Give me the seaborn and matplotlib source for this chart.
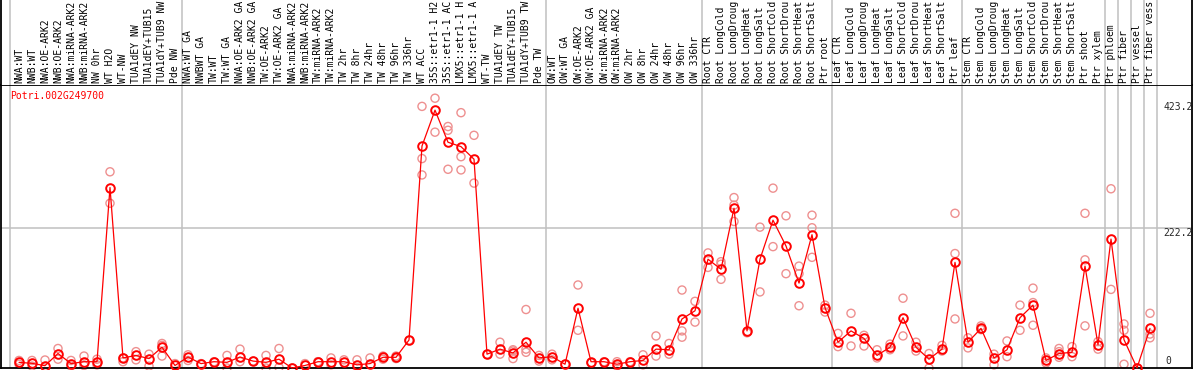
import numpy as np
import pandas as pd
import matplotlib
matplotlib.use("Agg")
import matplotlib.pyplot as plt
import seaborn as sns

# Sample names, left to right (as shown in the header, long names shortened)
samples = [
    "NWA:WT", "NWB:WT", "NWA:OE-ARK2", "NWB:OE-ARK2", "NWA:miRNA-ARK2", "NWB:miRNA-ARK2",
    "NW 0hr", "WT H2O", "WT-NW", "TUA1dEY NW", "TUA1dEY+TUB15", "TUA1dY+TUB9 NW", "Pde NW",
    "NWA:WT GA", "NWBWT GA", "TW:WT", "TW:WT GA", "NWA:OE-ARK2 GA", "NWB:OE-ARK2 GA",
    "TW:OE-ARK2", "TW:OE-ARK2 GA", "NWA:miRNA-ARK2", "NWB:miRNA-ARK2", "TW:miRNA-ARK2",
    "TW:miRNA-ARK2", "TW 2hr", "TW 8hr", "TW 24hr", "TW 48hr", "TW 96hr", "TW 336hr",
    "WT ACC", "35S::etr1-1 H2", "35S::etr1-1 AC", "LMX5::etr1-1 H", "LMX5::etr1-1 A",
    "WT-TW", "TUA1dEY TW", "TUA1dEY+TUB15", "TUA1dY+TUB9 TW", "Pde TW",
    "OW:WT", "OW:WT GA", "OW:OE-ARK2", "OW:OE-ARK2 GA", "OW:miRNA-ARK2", "OW:miRNA-ARK2",
    "OW 2hr", "OW 8hr", "OW 24hr", "OW 48hr", "OW 96hr", "OW 336hr",
    "Root CTR", "Root LongCold", "Root LongDroug", "Root LongHeat", "Root LongSalt",
    "Root ShortCold", "Root ShortDrou", "Root ShortHeat", "Root ShortSalt", "Ptr root",
    "Leaf CTR", "Leaf LongCold", "Leaf LongDroug", "Leaf LongHeat", "Leaf LongSalt",
    "Leaf ShortCold", "Leaf ShortDrou", "Leaf ShortHeat", "Leaf ShortSalt", "Ptr leaf",
    "Stem CTR", "Stem LongCold", "Stem LongDroug", "Stem LongHeat", "Stem LongSalt",
    "Stem ShortCold", "Stem ShortDrou", "Stem ShortHeat", "Stem ShortSalt",
    "Ptr shoot", "Ptr xylem", "Ptr phloem", "Ptr fiber", "Ptr vessel", "Ptr fiber vess",
]

# Mean expression per sample
means = [
    9, 7.4, 3.7, 23, 7, 10, 10, 287, 16, 20, 15, 33, 4,
    17.5, 7, 10, 9, 17.5, 11, 9, 14, 0, 4, 10, 10, 10, 5, 7, 17, 17, 44.5,
    353, 410, 359, 352, 332, 22, 30, 24, 41, 16,
    18, 6, 95, 10, 10, 6, 10, 12, 30, 29, 78, 91,
    173, 157, 254, 59, 173, 235, 194, 135, 212, 96,
    41, 59, 47, 20, 33, 80, 33, 14, 30, 168,
    41, 63, 16, 29, 80, 100, 12, 23, 25, 162, 37,
    205, 45, 0, 63,
]

# Individual replicate values per sample
replicates = [
    [12, 6], [12, 3], [12.7], [31, 14], [12, 3], [19, 4], [14, 5], [312, 262], [16, 10],
    [26, 13], [22, 3], [39, 19, 36], [7],
    [21, 12], [7], [10], [20, 0], [30, 10], [11], [20, 0], [31, 1], [0], [7], [10, 10],
    [16, 5], [13], [13, 1], [16], [19, 14], [19, 15], [44],
    [416, 333, 307], [429, 375], [384, 378, 316], [406, 336, 315], [370, 294], [22],
    [41, 22], [29, 15, 27], [93, 25, 30], [20, 11],
    [22, 13], [6], [132, 60], [8], [10], [10, 3], [10], [21, 5], [51, 19], [39, 22],
    [124, 59, 49], [106, 73],
    [183, 160], [169, 141, 165], [271, 259, 233], [56], [224, 121], [286, 193],
    [242, 150], [162, 99, 150], [243, 223, 176], [100, 89],
    [55, 34], [87, 35], [52, 35], [29, 16], [38, 29], [111, 51], [41, 27], [23, 0],
    [36, 27], [246, 182, 78],
    [48, 32], [67, 61], [22, 5], [43, 18], [100, 60], [127, 104, 68], [16, 8],
    [31, 17, 26], [34, 18], [246, 172, 67], [42, 30],
    [285, 125], [70, 60, 6], [0], [87, 54, 48],
]

# Group separators (between sample positions)
group_breaks = [-0.7, 12.5, 40.5, 52.5, 62.5, 72.5, 83.5, 84.5, 85.5, 86.5, 87.5]
gene_name = "Potri.002G249700"
ytick_values = [423.2, 222.2, 0]

mean_df = pd.DataFrame({"pos": np.arange(len(samples)), "value": means})
rep_df = pd.DataFrame(
    [(i, v) for i, reps in enumerate(replicates) for v in reps],
    columns=["pos", "value"],
)

sns.set_style("white")
plt.rcParams["font.family"] = ["DejaVu Sans Mono"]
fs = 7.0

W, H = 1194, 370
fig = plt.figure(figsize=(W / 100, H / 100), dpi=100)
ax = fig.add_axes([1 / W, (H - 368) / H, 1191 / W, 283 / H])
hx = fig.add_axes([1 / W, (H - 85) / H, 1191 / W, 85 / H])

xlim = ((1 - 19) / 13, (1192 - 19) / 13)
for a in (ax, hx):
    a.set_xlim(*xlim)
    a.set_xticks([])
    a.set_yticks([])
    for b in group_breaks:
        a.axvline(b, color="#c0c0c0", lw=1.1, zorder=0)
ax.set_ylim(0, 450)
hx.set_ylim(0, 1)
ax.axhline(222.2, color="#c0c0c0", lw=1.1, zorder=0)

for s in ax.spines.values():
    s.set_color("black")
    s.set_linewidth(1.3)
for k, s in hx.spines.items():
    s.set_color("black")
    s.set_linewidth(1.3)
    if k in ("top", "bottom"):
        s.set_visible(False)

sns.scatterplot(data=rep_df, x="pos", y="value", ax=ax, marker="o",
                facecolors="none", edgecolor="#ee9090", linewidth=1.0, s=34,
                zorder=2, clip_on=False)
sns.lineplot(data=mean_df, x="pos", y="value", ax=ax, color="red", lw=0.9,
             marker="o", markersize=6.2, markerfacecolor="none",
             markeredgecolor="red", markeredgewidth=1.4, zorder=3, clip_on=False)
ax.set_xlabel("")
ax.set_ylabel("")

# sample labels in the header strip
for i, name in enumerate(samples):
    hx.text(i, 2 / 85, name, rotation=90, ha="center", va="bottom",
            fontsize=fs, color="black", transform=hx.get_xaxis_transform())

# y value labels on the right
xt = (1163 - 19) / 13
for v in ytick_values:
    if v == 0:
        ax.text(xt + 0.2, 3, "0", ha="left", va="bottom", fontsize=fs)
    else:
        ax.text(xt, v, f"{v:.1f}", ha="left", va="top", fontsize=fs)

ax.text(9 / 1191, (368 - 96) / 283, gene_name, color="red", fontsize=fs,
        ha="left", va="center", transform=ax.transAxes)

fig.savefig("out.png", dpi=100)
